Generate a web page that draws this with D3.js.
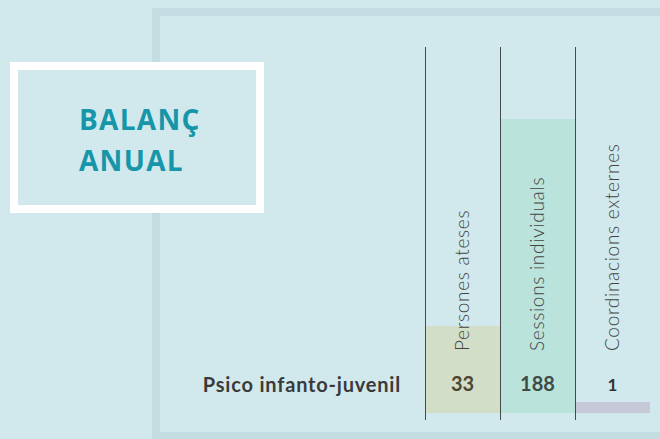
<!DOCTYPE html>
<html>
<head>
<meta charset="utf-8">
<script src="https://cdn.jsdelivr.net/npm/d3@7"></script>
<style>
  html, body { margin: 0; padding: 0; background: #d1e9ed; }
  svg { display: block; }
</style>
</head>
<body>
<div id="chart"></div>
<script>
// data
const categories = ["Persones ateses", "Sessions individuals", "Coordinacions externes"];
const values = [33, 188, 1];
const rowLabel = "Psico infanto-juvenil";
const titleLines = ["BALANÇ", "ANUAL"];
const barColors = ["#d3dec8", "#bae3dc", "#c5c9d8"];
const valueColors = ["#4d4634", "#3f4c47", "#333333"];

const width = 660, height = 439;

const svg = d3.select("#chart")
  .append("svg")
  .attr("width", width)
  .attr("height", height);

svg.append("rect")
  .attr("width", width).attr("height", height)
  .attr("fill", "#d1e9ed");

// outer panel frame
svg.append("rect")
  .attr("x", 156).attr("y", 12)
  .attr("width", 560).attr("height", 424)
  .attr("fill", "none")
  .attr("stroke", "#c4dde2")
  .attr("stroke-width", 8);

// title box
svg.append("rect")
  .attr("x", 14).attr("y", 66)
  .attr("width", 246).attr("height", 143)
  .attr("fill", "#d1e9ed")
  .attr("stroke", "#ffffff")
  .attr("stroke-width", 8);

svg.append("g")
  .selectAll("text")
  .data(titleLines)
  .join("text")
  .attr("x", 79)
  .attr("y", (d, i) => 130 + i * 41)
  .attr("fill", "#1796aa")
  .style("font-family", "'Open Sans', sans-serif")
  .style("font-weight", 700)
  .style("font-size", "28px")
  .style("letter-spacing", "1.3px")
  .text(d => d);

// scales
const x = d3.scaleBand()
  .domain(categories)
  .range([425, 650])
  .padding(0);

const baseY = 413;
// bar heights in the source are not proportional, so a piecewise scale
const y = d3.scaleLinear()
  .domain([0, 1, 33, 188])
  .range([baseY, baseY - 11, baseY - 87, baseY - 294]);

// bars
svg.append("g")
  .selectAll("rect")
  .data(values)
  .join("rect")
  .attr("x", (d, i) => x(categories[i]) + 1)
  .attr("y", d => y(d))
  .attr("width", x.bandwidth() - 1)
  .attr("height", d => baseY - y(d))
  .attr("fill", (d, i) => barColors[i]);

// column separators
svg.append("g")
  .selectAll("line")
  .data(categories)
  .join("line")
  .attr("x1", d => x(d) + 0.5)
  .attr("x2", d => x(d) + 0.5)
  .attr("y1", 47)
  .attr("y2", 420)
  .attr("stroke", "#454a4a")
  .attr("stroke-width", 1);

// rotated column labels
svg.append("g")
  .selectAll("text")
  .data(categories)
  .join("text")
  .attr("transform", d => `translate(${x(d) + x.bandwidth() / 2 + 6},351) rotate(-90)`)
  .attr("fill", "#444")
  .style("font-family", "Lato, sans-serif")
  .style("font-weight", 300)
  .style("font-size", "19px")
  .style("letter-spacing", "0.7px")
  .text(d => d);

// values
svg.append("g")
  .selectAll("text")
  .data(values)
  .join("text")
  .attr("x", (d, i) => x(categories[i]) + x.bandwidth() / 2)
  .attr("y", 391)
  .attr("text-anchor", "middle")
  .attr("fill", (d, i) => valueColors[i])
  .style("font-family", "Lato, sans-serif")
  .style("font-weight", 700)
  .style("font-size", (d, i) => i === 2 ? "17px" : "20px")
  .text(d => d);

// row label
svg.append("text")
  .attr("x", 401)
  .attr("y", 392)
  .attr("text-anchor", "end")
  .attr("fill", "#3a3a3a")
  .style("font-family", "Lato, sans-serif")
  .style("font-weight", 700)
  .style("font-size", "20px")
  .style("letter-spacing", "0.8px")
  .text(rowLabel);
</script>
</body>
</html>
